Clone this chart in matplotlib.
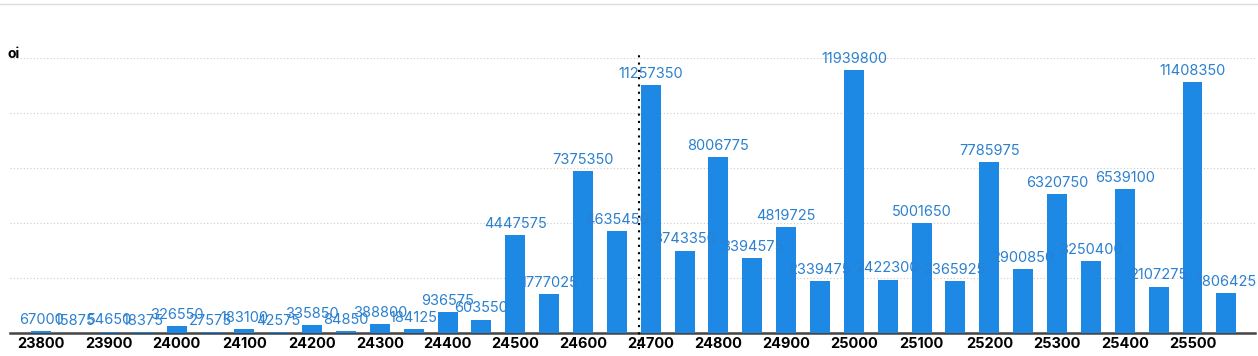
import matplotlib.pyplot as plt
import numpy as np

strikes = list(range(23800, 25600, 50))
oi = [67000, 15875, 54650, 18375, 326550, 27575, 183100, 42575, 335850, 84850,
      388800, 184125, 936575, 603550, 4447575, 1777025, 7375350, 4635450,
      11257350, 3743350, 8006775, 3394575, 4819725, 2339475, 11939800, 2422300,
      5001650, 2365925, 7785975, 2900850, 6320750, 3250400, 6539100, 2107275,
      11408350, 1806425]
tick_strikes = list(range(23800, 25600, 100))
spot = 24682

plt.rcParams['font.family'] = ['Inter', 'DejaVu Sans']

fig = plt.figure(figsize=(12.58, 3.56), dpi=100)
ax = fig.add_axes([0.008, 0.065, 0.99, 0.772])

ax.bar(strikes, oi, width=29.5, color='#1e88e5', zorder=3)
for x, v in zip(strikes, oi):
    ax.annotate(str(v), (x, v), xytext=(0, 3), textcoords='offset points',
                ha='center', va='bottom', fontsize=10.5, color='#2b80cf', zorder=4)

ax.axvline(spot, color='black', linestyle=(0, (1, 2.5)), linewidth=1.5,
           ymin=-0.06, ymax=1.01, clip_on=False, zorder=5)

ax.set_xlim(23754, 25593)
ax.set_ylim(0, 12500000)
ax.set_yticks(np.arange(2500000, 12500001, 2500000))
ax.yaxis.grid(True, color='#cccccc', linestyle=(0, (1, 2)), linewidth=0.8)
ax.tick_params(axis='y', left=False, labelleft=False)
ax.set_xticks(tick_strikes)
ax.set_xticklabels([str(s) for s in tick_strikes], fontweight='bold', fontsize=10.5)
ax.tick_params(axis='x', length=0, pad=3)
for side in ['top', 'right', 'left']:
    ax.spines[side].set_visible(False)
ax.spines['bottom'].set_color('#444444')
ax.spines['bottom'].set_linewidth(1.8)

fig.text(0.006, 0.83, 'oi', fontsize=10, fontweight='bold', ha='left', va='bottom')
fig.add_artist(plt.Line2D([0, 1], [0.988, 0.988], color='#dddddd', linewidth=1))

fig.savefig('out.png', dpi=100)
